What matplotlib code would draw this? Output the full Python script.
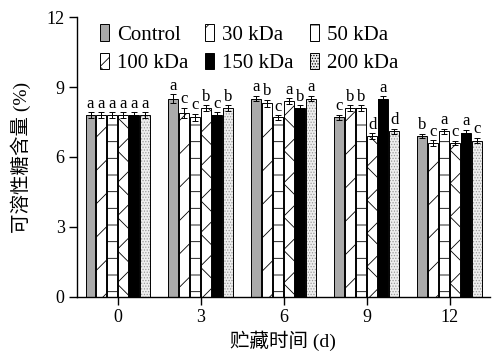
import numpy as np
import matplotlib.pyplot as plt
from matplotlib.patches import Patch

plt.rcParams['font.family'] = ['Liberation Serif', 'Noto Sans CJK SC']
plt.rcParams['hatch.linewidth'] = 0.6

days = ['0', '3', '6', '9', '12']
groups = ['Control', '30 kDa', '50 kDa', '100 kDa', '150 kDa', '200 kDa']

values = [
    [7.8, 8.5, 8.5, 7.7, 6.9],   # Control
    [7.8, 7.9, 8.3, 8.1, 6.6],   # 30 kDa
    [7.8, 7.7, 7.7, 8.1, 7.1],   # 50 kDa
    [7.8, 8.1, 8.4, 6.9, 6.6],   # 100 kDa
    [7.8, 7.8, 8.1, 8.5, 7.05],  # 150 kDa
    [7.8, 8.1, 8.5, 7.1, 6.7],   # 200 kDa
]
errors = [
    [0.12, 0.18, 0.12, 0.12, 0.1],
    [0.12, 0.22, 0.15, 0.12, 0.12],
    [0.12, 0.15, 0.1, 0.12, 0.12],
    [0.12, 0.12, 0.12, 0.12, 0.1],
    [0.12, 0.12, 0.12, 0.1, 0.12],
    [0.12, 0.12, 0.12, 0.12, 0.12],
]
letters = [
    ['a', 'a', 'a', 'c', 'b'],
    ['a', 'c', 'b', 'b', 'c'],
    ['a', 'c', 'c', 'b', 'a'],
    ['a', 'b', 'a', 'd', 'c'],
    ['a', 'c', 'b', 'a', 'a'],
    ['a', 'b', 'a', 'd', 'c'],
]

faces = ['#aaaaaa', 'white', 'white', 'white', 'black', '#eeeeee']
hatches = [None, '/', '-', 'x', None, '......']
hcolors = ['black', 'black', 'black', 'black', 'black', '#999999']

fig = plt.figure(figsize=(4.92, 3.63), dpi=100)
ax = fig.add_axes([0.157, 0.182, 0.838, 0.771])

x = np.arange(len(days))
w = 0.12
step = 0.132
handles = []
for k in range(len(groups)):
    pos = x + (k - 2.5) * step
    ax.bar(pos, values[k], w, color=faces[k], edgecolor=hcolors[k], linewidth=0,
           hatch=hatches[k], zorder=2)
    ax.bar(pos, values[k], w, fill=False, edgecolor='black', linewidth=0.7, zorder=2)
    ax.errorbar(pos, values[k], yerr=errors[k], fmt='none', ecolor='black',
                elinewidth=0.7, capsize=2.5, capthick=0.7, zorder=3)
    for i in range(len(days)):
        ax.text(pos[i], values[k][i] + errors[k][i] + 0.02, letters[k][i],
                ha='center', va='bottom', fontsize=12)
    handles.append(Patch(facecolor=faces[k], edgecolor='black', linewidth=0.7,
                         hatch=hatches[k], label=groups[k]))

ax.set_xlim(-0.49, 4.48)
ax.set_ylim(0, 12)
ax.set_yticks([0, 3, 6, 9, 12])
ax.set_xticks(x)
ax.set_xticklabels(days)
ax.tick_params(labelsize=13, width=1, length=5.5)
ax.spines['top'].set_visible(False)
ax.spines['right'].set_visible(False)
ax.spines['left'].set_linewidth(1)
ax.spines['bottom'].set_linewidth(1)

ax.set_xlabel('贮藏时间 (d)', fontsize=14, labelpad=3)
ax.set_ylabel('可溶性糖含量 (%)', fontsize=14, labelpad=11)

# row-wise legend order
order = [0, 3, 1, 4, 2, 5]
ax.legend([handles[i] for i in order], [groups[i] for i in order],
          loc='upper left', ncol=3, frameon=False, fontsize=15,
          handlelength=0.42, handleheight=0.85, handletextpad=0.4,
          columnspacing=0.8, labelspacing=0.4, borderaxespad=0,
          bbox_to_anchor=(0.035, 1.005))

fig.savefig('out.png', dpi=100)
